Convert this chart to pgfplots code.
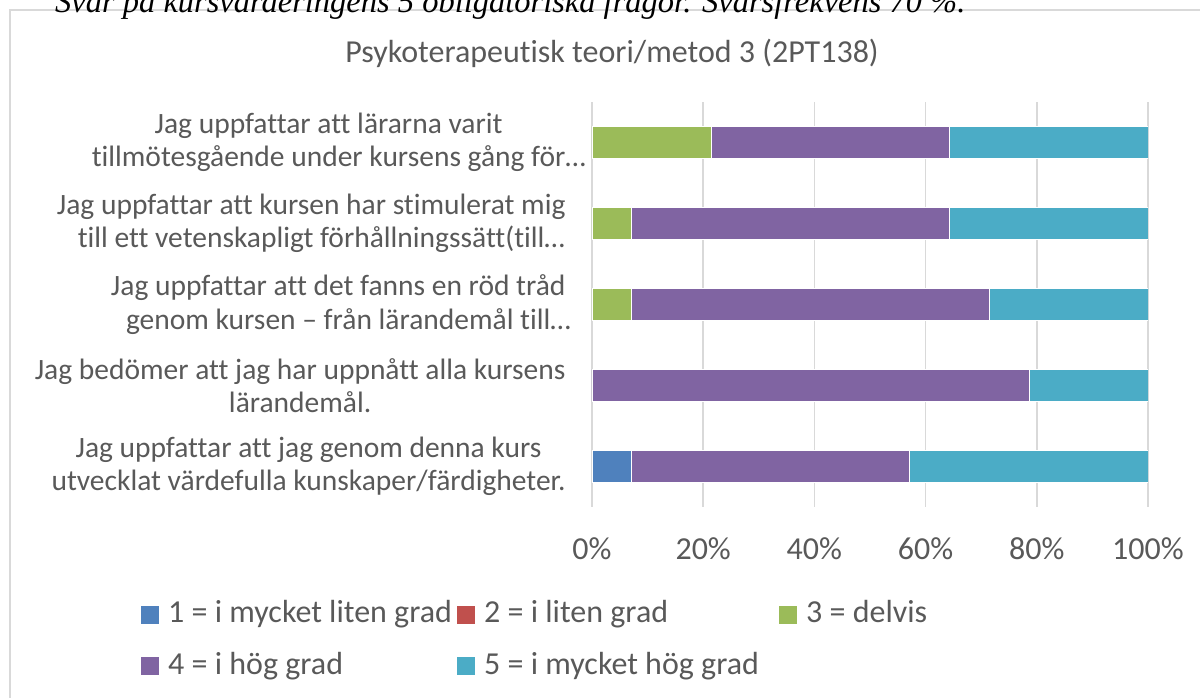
\documentclass[border=0pt]{standalone}
\usepackage{pgfplots}
\pgfplotsset{compat=1.18}
\usepackage{fontspec}
\setmainfont{Carlito}[RawFeature=-liga]
\newfontfamily\capfont{Liberation Serif}
\definecolor{txt}{HTML}{595959}
\definecolor{gridc}{HTML}{D9D9D9}
\definecolor{c1}{HTML}{4F81BD}
\definecolor{c2}{HTML}{C0504D}
\definecolor{c3}{HTML}{9BBB59}
\definecolor{c4}{HTML}{8064A2}
\definecolor{c5}{HTML}{4BACC6}
\pgfplotstableread{
y s1 s2 s3 s4 s5
0 7.14 0 0 50.00 42.86
1 0 0 0 78.57 21.43
2 0 0 7.14 64.29 28.57
3 0 0 7.14 57.14 35.71
4 0 0 21.43 42.86 35.71
}\data
\newcommand{\fs}{\fontsize{29.5}{33.5}\selectfont}
\newcommand{\fl}{\fontsize{32}{36}\selectfont}
\newcommand{\li}[3]{\makebox[#1][l]{\textcolor{#2}{\rule[-1pt]{18pt}{18pt}}\hspace{9pt}#3}}
\begin{document}
\begin{tikzpicture}
\useasboundingbox (0pt,0pt) rectangle (1200pt,698pt);
\draw[gridc, line width=1.5pt] (10pt,-10pt) rectangle (1215pt,688pt);
\node[anchor=base west, inner sep=0, font=\capfont\itshape\fontsize{32.5}{38}\selectfont] at (55pt,685pt) {Svar på kursvärderingens 5 obligatoriska frågor. Svarsfrekvens 70 \%.};
\node[anchor=base, inner sep=0, text=txt, font=\fontsize{32}{38}\selectfont] at (612pt,635pt) {Psykoterapeutisk teori/metod 3 (2PT138)};
\begin{axis}[
  at={(592pt,191pt)}, anchor=south west,
  scale only axis, width=556pt, height=405pt,
  xbar stacked, bar width=32pt,
  xmin=0, xmax=100, ymin=-0.5, ymax=4.5,
  axis line style={draw=none},
  major tick length=0,
  xmajorgrids, grid style={gridc, line width=1.5pt},
  xtick={0,20,40,60,80,100},
  xticklabels={0\%,20\%,40\%,60\%,80\%,100\%},
  xticklabel style={text=txt, font=\fl, yshift=-27pt},
  ytick={0,1,2,3,4},
  yticklabels={
    {Jag uppfattar att jag genom denna kurs\\utvecklat värdefulla kunskaper/färdigheter.},
    {Jag bedömer att jag har uppnått alla kursens\\lärandemål.},
    {Jag uppfattar att det fanns en röd tråd\\genom kursen – från lärandemål till\rlap{…}},
    {Jag uppfattar att kursen har stimulerat mig\\till ett vetenskapligt förhållningssätt(till\rlap{…}},
    {Jag uppfattar att lärarna varit\\tillmötesgående under kursens gång för\rlap{…}}},
  yticklabel style={text=txt, font=\fs, align=center, xshift=-23pt},
  legend columns=3,
  legend cell align=left,
  legend style={draw=none, fill=none, at={(-0.8147,-0.225)}, anchor=north west,
    font=\fl, text=txt, row sep=24pt, inner sep=0pt,
    /tikz/every odd column/.style={column sep=0pt},
    /tikz/every even column/.style={column sep=0pt}},
  legend image code/.code={},
  every axis plot/.append style={draw=white, line width=0.6pt},
]
\addplot[fill=c1] table[x=s1,y=y]{\data};
\addlegendentry{\li{312pt}{c1}{1 = i mycket liten grad}}
\addplot[fill=c2] table[x=s2,y=y]{\data};
\addlegendentry{\li{318pt}{c2}{2 = i liten grad}}
\addplot[fill=c3] table[x=s3,y=y]{\data};
\addlegendentry{\li{160pt}{c3}{3 = delvis}}
\addplot[fill=c4] table[x=s4,y=y]{\data};
\addlegendentry{\li{312pt}{c4}{4 = i hög grad}}
\addplot[fill=c5] table[x=s5,y=y]{\data};
\addlegendentry{\li{318pt}{c5}{5 = i mycket hög grad}}
\end{axis}
\end{tikzpicture}
\end{document}
